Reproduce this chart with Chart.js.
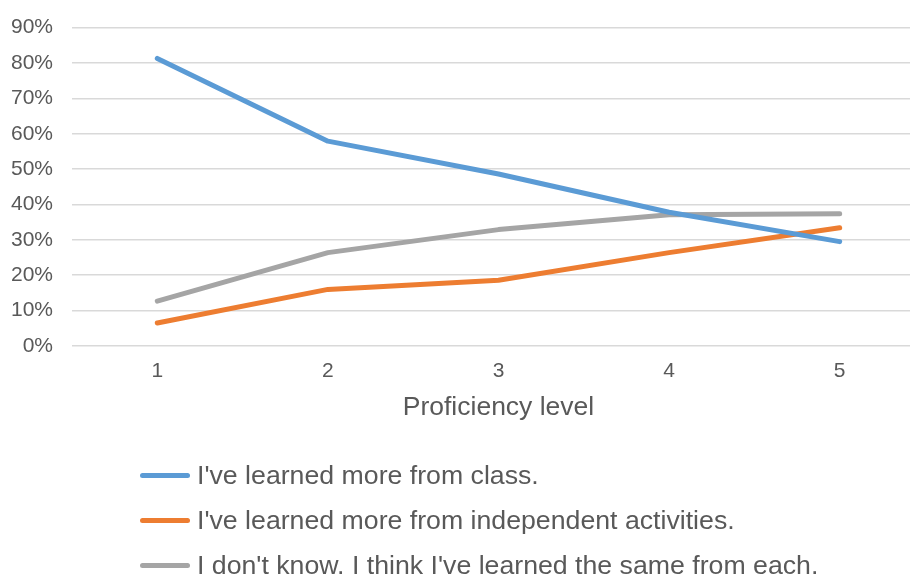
<!DOCTYPE html>
<html>
<head>
<meta charset="utf-8">
<script src="https://cdn.jsdelivr.net/npm/chart.js@4"></script>
<style>
  html, body { margin: 0; padding: 0; background: #fff; overflow: hidden; }
  #wrap { position: absolute; left: 0; top: -4px; width: 925px; height: 579px; }
  #legend {
    position: absolute; left: 140px; top: 453px;
    font-family: "Liberation Sans", Arial, sans-serif; font-size: 26.7px; color: #595959;
  }
  .row { display: flex; align-items: center; height: 45px; white-space: nowrap; }
  .swatch { width: 50px; height: 5px; border-radius: 3px; margin-right: 7px; }
</style>
</head>
<body>
<div id="wrap"><canvas id="chart" width="925" height="579"></canvas></div>
<div id="legend"></div>
<script>
const levels = ["1", "2", "3", "4", "5"];
const seriesNames = [
  "I've learned more from class.",
  "I've learned more from independent activities.",
  "I don't know. I think I've learned the same from each.",
];
const fromClass = [81.3, 57.9, 48.6, 37.8, 29.5];
const fromIndependent = [6.5, 16.0, 18.6, 26.4, 33.4];
const dontKnow = [12.7, 26.4, 32.9, 37.1, 37.4];
const colors = ["#5B9BD5", "#ED7D31", "#A5A5A5"];

const FONT = "'Liberation Sans', Arial, sans-serif";
const TEXT = "#595959";

const datasets = [fromClass, fromIndependent, dontKnow].map((data, i) => ({
  label: seriesNames[i],
  data,
  borderColor: colors[i],
  backgroundColor: colors[i],
  borderWidth: 5,
  borderCapStyle: "round",
  borderJoinStyle: "round",
  pointRadius: 0,
  tension: 0,
}));

new Chart(document.getElementById("chart").getContext("2d"), {
  type: "line",
  data: { labels: levels, datasets },
  options: {
    responsive: false,
    animation: false,
    layout: { padding: { top: 22, right: 0, bottom: 151, left: 0 } },
    plugins: { legend: { display: false }, tooltip: { enabled: false } },
    scales: {
      x: {
        offset: true,
        grid: { display: false },
        border: { display: false },
        ticks: { color: TEXT, font: { family: FONT, size: 21 }, padding: 5 },
        title: {
          display: true,
          text: "Proficiency level",
          color: TEXT,
          font: { family: FONT, size: 26.5 },
          padding: 0,
        },
        afterFit: (s) => { s.height = 78; },
      },
      y: {
        min: 0,
        max: 90,
        grid: { color: "#d9d9d9", lineWidth: 1.5, drawTicks: false },
        border: { display: false },
        ticks: {
          stepSize: 10,
          padding: 19,
          color: TEXT,
          font: { family: FONT, size: 21 },
          callback: (v) => v + "%",
        },
        afterFit: (s) => { s.width = 72; },
      },
    },
  },
});

// legend laid out as a single column, like the original
const legendEl = document.getElementById("legend");
seriesNames.forEach((name, i) => {
  const row = document.createElement("div");
  row.className = "row";
  row.innerHTML = `<span class="swatch" style="background:${colors[i]}"></span><span>${name}</span>`;
  legendEl.appendChild(row);
});
</script>
</body>
</html>
